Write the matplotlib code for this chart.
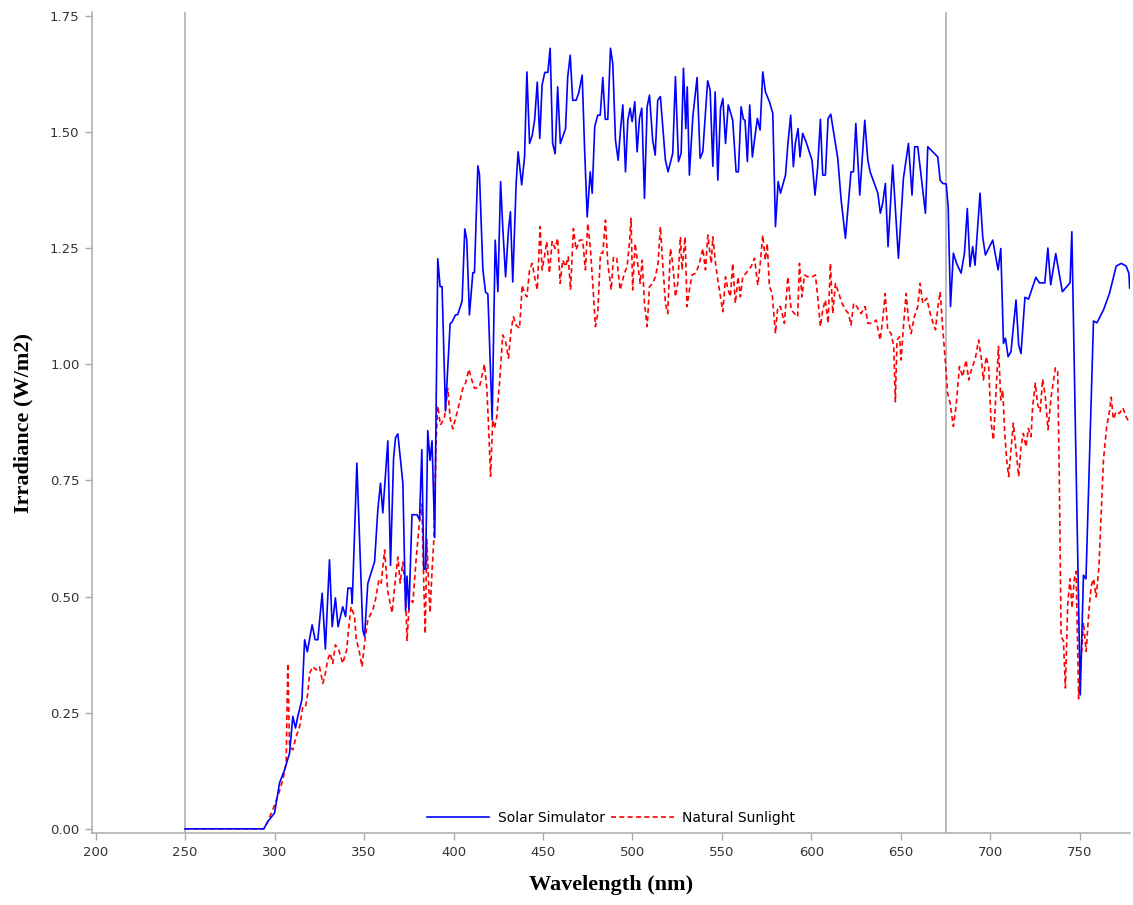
import matplotlib
matplotlib.use("Agg")
import matplotlib.pyplot as plt

# --- data (wavelength nm, irradiance W/m2) ---
sim_wl = [250, 294, 296.3, 300, 302.8, 305.6, 308.4, 310.2, 311.7, 313, 315.3, 316.8, 318.3,
          321, 322.7, 324.2, 326.6, 328.4, 330.7, 332.2, 334, 335.5, 338.1, 339.7, 341,
          342.8, 343.4, 346, 349.3, 350.3, 352.1, 355.9, 357.7, 359.2, 360.5, 363.3, 364.8,
          366.5, 367.6, 368.9, 371.7, 373.2, 374, 375.1, 376.8, 379.6, 381, 382.3, 383.4,
          384.4, 385.6, 386.9, 388, 389.5, 391.2, 392.5, 393.6, 395.5, 398.1, 399.2, 401.1,
          402.4, 404.8, 406.3, 407.4, 408.9, 410.8, 411.7, 413.6, 414.5, 416.4, 417.9, 419.2,
          421.6, 423.3, 424.8, 426.3, 427.5, 429.1, 430.7, 431.8, 433.1, 435, 436.1, 438.1,
          439.7, 441, 442.5, 444, 445.3, 446.8, 448.2, 449.5, 451, 452.7, 454, 455.4, 456.8,
          458.2, 459.7, 461, 462.6, 463.8, 465.2, 466.6, 468.5, 469.9, 471.9, 473.2, 474.7,
          476.4, 477.5, 478.9, 480.6, 482, 483.4, 484.8, 486.2, 487.7, 489, 490.5, 492,
          493.3, 494.6, 496.1, 497.4, 498.7, 499.8, 501.3, 502.6, 503.9, 505.2, 506.7, 508.2,
          509.5, 511.3, 512.7, 514.1, 515.6, 516.9, 518.4, 519.9, 522.5, 524, 525.7, 527.2,
          528.5, 529.8, 530.6, 531.8, 533.7, 536.1, 537.8, 539.3, 542, 543.4, 544.9, 546.2,
          547.7, 549.2, 550.5, 552, 553.5, 554.7, 556, 557.9, 559.2, 560.7, 562, 562.9,
          564.2, 565.5, 567, 568.3, 569.8, 571.3, 572.8, 574.3, 576.5, 578.4, 579.9, 581.4,
          582.7, 585.5, 586.8, 588.4, 589.9, 591, 592.5, 593.6, 595.1, 597.3, 600.3, 602,
          603.5, 605, 606.3, 607.8, 609.3, 610.8, 612.8, 614.7, 616.6, 619, 622.1, 623.5,
          624.8, 627, 629.8, 631.5, 632.8, 637.1, 638.5, 639.8, 641.3, 642.8, 645.4, 648.6,
          651.4, 654.2, 656.2, 657.7, 659.4, 663.7, 665, 670.6, 671.9, 673.4, 675.3, 676.4,
          677.7, 679.3, 681.1, 683.6, 685.5, 687.1, 688.6, 690.1, 691.4, 694.2, 695.7, 697.2,
          701.3, 704.3, 705.8, 707.3, 708.4, 709.9, 711.5, 714.3, 715.8, 717.1, 719.3, 721.3,
          725.4, 727.4, 730.4, 732.1, 733.7, 736.5, 740.2, 744.5, 745.5, 750.2, 752, 753.4,
          757.6, 759.5, 763.2, 766.5, 770.3, 773.1, 775.9, 777.4, 777.8]
sim_irr = [0, 0, 0.016, 0.034, 0.099, 0.127, 0.163, 0.242, 0.217, 0.242, 0.278, 0.407, 0.381,
           0.439, 0.407, 0.407, 0.507, 0.387, 0.579, 0.435, 0.497, 0.435, 0.478, 0.457, 0.518,
           0.518, 0.485, 0.787, 0.428, 0.414, 0.528, 0.575, 0.686, 0.744, 0.68, 0.835, 0.567,
           0.797, 0.842, 0.85, 0.744, 0.469, 0.544, 0.472, 0.676, 0.676, 0.665, 0.816, 0.559,
           0.559, 0.857, 0.793, 0.835, 0.627, 1.227, 1.167, 1.167, 0.899, 1.087, 1.091, 1.106,
           1.107, 1.136, 1.291, 1.268, 1.106, 1.197, 1.197, 1.427, 1.408, 1.204, 1.155, 1.151,
           0.88, 1.267, 1.156, 1.393, 1.296, 1.188, 1.289, 1.328, 1.177, 1.389, 1.457, 1.386,
           1.446, 1.629, 1.475, 1.493, 1.525, 1.607, 1.486, 1.601, 1.628, 1.628, 1.68, 1.475, 1.453,
           1.597, 1.475, 1.489, 1.507, 1.618, 1.665, 1.568, 1.568, 1.583, 1.622, 1.468, 1.317,
           1.414, 1.368, 1.511, 1.536, 1.536, 1.617, 1.527, 1.527, 1.68, 1.647, 1.482, 1.439,
           1.504, 1.558, 1.414, 1.525, 1.551, 1.522, 1.565, 1.457, 1.529, 1.551, 1.357, 1.554,
           1.579, 1.482, 1.45, 1.568, 1.576, 1.511, 1.439, 1.414, 1.454, 1.619, 1.436, 1.454,
           1.637, 1.507, 1.597, 1.407, 1.532, 1.617, 1.443, 1.457, 1.61, 1.59, 1.426, 1.586,
           1.396, 1.551, 1.572, 1.475, 1.558, 1.543, 1.525, 1.414, 1.414, 1.554, 1.527, 1.525,
           1.436, 1.558, 1.446, 1.486, 1.529, 1.504, 1.629, 1.586, 1.565, 1.54, 1.296, 1.393,
           1.368, 1.407, 1.472, 1.536, 1.425, 1.475, 1.507, 1.446, 1.497, 1.475, 1.439, 1.364,
           1.425, 1.527, 1.407, 1.407, 1.529, 1.538, 1.489, 1.443, 1.353, 1.271, 1.414, 1.414,
           1.518, 1.364, 1.525, 1.439, 1.414, 1.368, 1.325, 1.346, 1.389, 1.253, 1.429, 1.228,
           1.4, 1.475, 1.364, 1.468, 1.468, 1.325, 1.468, 1.446, 1.396, 1.389, 1.388, 1.339,
           1.124, 1.239, 1.217, 1.196, 1.239, 1.335, 1.21, 1.253, 1.213, 1.368, 1.274, 1.235,
           1.267, 1.203, 1.249, 1.045, 1.056, 1.016, 1.027, 1.138, 1.041, 1.023, 1.144, 1.14,
           1.187, 1.175, 1.175, 1.25, 1.171, 1.238, 1.156, 1.175, 1.285, 0.288, 0.546, 0.538,
           1.093, 1.089, 1.117, 1.152, 1.211, 1.217, 1.211, 1.195, 1.164]

sun_wl = [250, 294, 296.3, 299, 301.8, 304.6, 306.5, 307.4, 308.4, 310.2, 312.1, 314, 315.8,
          317.3, 318.6, 319.6, 321.4, 323.3, 325.1, 327, 328.4, 329.7, 331.1, 332.5, 334,
          335.9, 338.1, 340.3, 341.5, 342.8, 344.7, 345.6, 347.5, 348.9, 350.3, 352.1, 354.9,
          356.4, 358.3, 359.6, 361.5, 363.3, 365.7, 367.6, 368.9, 370.2, 371.7, 373.2, 374,
          375.4, 377.3, 379.2, 381, 382.3, 383.4, 384.2, 385.1, 386.2, 386.9, 388, 389, 390.3,
          391.2, 392.7, 394.9, 396.8, 398.1, 399.6, 402.4, 405.2, 406.7, 408.6, 409.9, 411.7,
          414.5, 417.3, 418.6, 419.7, 420.7, 421.9, 422.9, 424.2, 425.7, 427.5, 429.1, 430.7,
          432.2, 433.5, 435, 436.9, 438.4, 439.7, 441, 442.5, 444, 445.3, 446.8, 448.4, 449.5,
          450.8, 452.1, 453.6, 455.1, 456.8, 458.2, 459.6, 461, 462.6, 464.1, 465.4, 467,
          468.5, 470.4, 472.2, 473.7, 475, 476.4, 477.8, 479.3, 480.6, 482.1, 483.4, 484.9,
          486.2, 488.1, 489.4, 491.2, 493.1, 495.5, 497, 498.3, 499.2, 500.1, 501.5, 502.9,
          504.3, 505.4, 506.7, 508.2, 509.5, 511.3, 512.8, 514.3, 515.6, 516.9, 518.4, 519.7,
          521.2, 522.5, 524, 525.3, 526.8, 527.7, 529.4, 530.5, 531.8, 533.3, 535.5, 537.4,
          539.3, 540.8, 542.1, 544, 544.9, 546.4, 547.7, 549.2, 550.5, 552, 553.2, 554.7, 556,
          557.5, 559, 560.3, 561.6, 563.5, 566.3, 568.2, 570, 571.4, 572.8, 574.2, 575.3,
          576.5, 578, 579.9, 581.2, 582.7, 584.9, 586.8, 588.7, 590.5, 592.3, 593.3, 594.7,
          596.1, 597.9, 600.3, 602.2, 603.5, 605, 606.3, 607.8, 609.3, 610.6, 611.9, 613.4,
          615.2, 617.1, 619, 620.7, 622.1, 623.6, 625.3, 627.7, 630, 631.5, 633.9, 636.2,
          638.4, 639.8, 641.2, 642.6, 644.5, 646, 646.9, 647.8, 649.2, 650.1, 651.4, 652.9,
          654.2, 655.7, 657.5, 659.4, 660.7, 662.2, 664.4, 666.8, 669.3, 670.7, 671.9, 673.3,
          674.9, 676.1, 677.5, 679.3, 680.8, 682.7, 684.5, 686.4, 687.9, 689.4, 691.6, 693.4,
          694.8, 696.1, 697.6, 699, 700.4, 701.7, 703.2, 704.5, 705.8, 706.9, 708, 709.1,
          710.2, 711.5, 712.8, 714.3, 715.8, 717.1, 718.4, 719.9, 721.2, 722.7, 723.6, 725.1,
          726.4, 727.8, 729.2, 730.7, 732.2, 733.9, 736.3, 737.6, 738.5, 739.5, 740.8, 741.9,
          743.2, 744.5, 745.6, 746.9, 747.9, 749.3, 750.7, 752, 753.5, 755, 756.3, 757.6,
          759.1, 760.6, 761.9, 763.2, 765, 766.5, 767.5, 768.7, 770.3, 772.1, 774, 775.9, 777.8]
sun_irr = [0, 0, 0.016, 0.041, 0.07, 0.105, 0.141, 0.356, 0.177, 0.17, 0.199, 0.22, 0.263,
           0.263, 0.292, 0.335, 0.349, 0.342, 0.349, 0.313, 0.335, 0.364, 0.378, 0.356, 0.396,
           0.385, 0.356, 0.385, 0.435, 0.478, 0.457, 0.41, 0.378, 0.349, 0.4, 0.45, 0.471,
           0.493, 0.536, 0.529, 0.6, 0.51, 0.465, 0.54, 0.585, 0.529, 0.574, 0.51, 0.404,
           0.495, 0.487, 0.585, 0.661, 0.699, 0.525, 0.42, 0.623, 0.518, 0.465, 0.555, 0.623, 0.835,
           0.91, 0.869, 0.884, 0.948, 0.884, 0.861, 0.902, 0.948, 0.959, 0.989, 0.97, 0.948,
           0.951, 1.0, 0.948, 0.857, 0.759, 0.88, 0.862, 0.887, 0.959, 1.063, 1.048, 1.013,
           1.074, 1.102, 1.084, 1.077, 1.17, 1.152, 1.145, 1.203, 1.217, 1.188, 1.16, 1.296, 1.203,
           1.231, 1.264, 1.196, 1.264, 1.249, 1.271, 1.174, 1.224, 1.21, 1.231, 1.16, 1.292,
           1.246, 1.267, 1.267, 1.203, 1.303, 1.253, 1.174, 1.081, 1.109, 1.239, 1.239, 1.31,
           1.217, 1.16, 1.231, 1.228, 1.16, 1.196, 1.21, 1.26, 1.314, 1.16, 1.26, 1.217,
           1.174, 1.224, 1.131, 1.081, 1.167, 1.174, 1.188, 1.217, 1.296, 1.217, 1.131, 1.109,
           1.249, 1.217, 1.145, 1.174, 1.274, 1.203, 1.274, 1.124, 1.16, 1.192, 1.196, 1.217,
           1.249, 1.203, 1.278, 1.217, 1.274, 1.217, 1.181, 1.145, 1.113, 1.188, 1.163, 1.145, 1.217,
           1.131, 1.188, 1.145, 1.188, 1.196, 1.21, 1.228, 1.17, 1.217, 1.278, 1.224, 1.26,
           1.167, 1.153, 1.066, 1.124, 1.124, 1.088, 1.188, 1.117, 1.109, 1.102, 1.217, 1.145,
           1.192, 1.188, 1.188, 1.192, 1.145, 1.081, 1.117, 1.138, 1.088, 1.217, 1.109, 1.174,
           1.153, 1.131, 1.117, 1.109, 1.084, 1.131, 1.124, 1.109, 1.124, 1.088, 1.088, 1.095,
           1.052, 1.095, 1.152, 1.074, 1.066, 1.038, 0.919, 1.052, 1.059, 1.009, 1.081, 1.152,
           1.095, 1.066, 1.102, 1.124, 1.174, 1.131, 1.142, 1.102, 1.074, 1.124, 1.156, 1.081,
           1.002, 0.937, 0.916, 0.866, 0.909, 0.995, 0.973, 1.009, 0.966, 0.988, 1.013, 1.052,
           1.016, 0.966, 1.016, 0.995, 0.873, 0.837, 0.944, 1.038, 0.923, 0.944, 0.851, 0.794,
           0.758, 0.815, 0.873, 0.815, 0.758, 0.822, 0.851, 0.822, 0.862, 0.844, 0.909, 0.959,
           0.913, 0.898, 0.968, 0.929, 0.859, 0.929, 0.992, 0.984, 0.757, 0.413, 0.405, 0.303,
           0.483, 0.538, 0.475, 0.538, 0.554, 0.28, 0.366, 0.444, 0.382, 0.468, 0.522, 0.538,
           0.499, 0.562, 0.679, 0.796, 0.866, 0.898, 0.929, 0.882, 0.898, 0.894, 0.906, 0.886, 0.874]

ref_lines = [250, 675]
x_ticks = [200, 250, 300, 350, 400, 450, 500, 550, 600, 650, 700, 750]
y_ticks = [0.00, 0.25, 0.50, 0.75, 1.00, 1.25, 1.50, 1.75]

# --- figure ---
fig = plt.figure(figsize=(11.33, 9.05), dpi=100)
ax = fig.add_axes([92 / 1133, 1 - 833 / 905, (1130 - 92) / 1133, (833 - 12) / 905])

grey = "#a6abb0"
for xv in ref_lines:
    ax.axvline(xv, color=grey, lw=1.1, zorder=1)

ax.plot(sim_wl, sim_irr, color="#0000ff", lw=1.2, label="Solar Simulator", zorder=3)
ax.plot(sun_wl, sun_irr, color="#ff0000", lw=1.2, dashes=(3, 2),
        label="Natural Sunlight", zorder=2)

ax.set_xlim(198, 778)
ax.set_ylim(-0.009, 1.758)
ax.set_xticks(x_ticks)
ax.set_yticks(y_ticks)
ax.set_yticklabels([f"{v:.2f}" for v in y_ticks])

for side in ["top", "right"]:
    ax.spines[side].set_visible(False)
for side in ["left", "bottom"]:
    ax.spines[side].set_color(grey)
    ax.spines[side].set_linewidth(1.1)
ax.tick_params(axis="both", colors=grey, length=5, width=1, labelsize=9.5,
               labelcolor="#333333", pad=4)
for lab in ax.get_xticklabels() + ax.get_yticklabels():
    lab.set_family("DejaVu Sans")

ax.set_xlabel("Wavelength (nm)", family="Liberation Serif", fontsize=16,
              fontweight="bold", labelpad=12)
ax.set_ylabel("Irradiance (W/m2)", family="Liberation Serif", fontsize=16,
              fontweight="bold", labelpad=12)

ax.legend(loc="lower center", bbox_to_anchor=(0.5, 0.0), ncol=2, frameon=False,
          fontsize=10, handlelength=4.5, columnspacing=0.5, handletextpad=0.6,
          borderaxespad=0.2)

plt.savefig("out.png", dpi=100)
